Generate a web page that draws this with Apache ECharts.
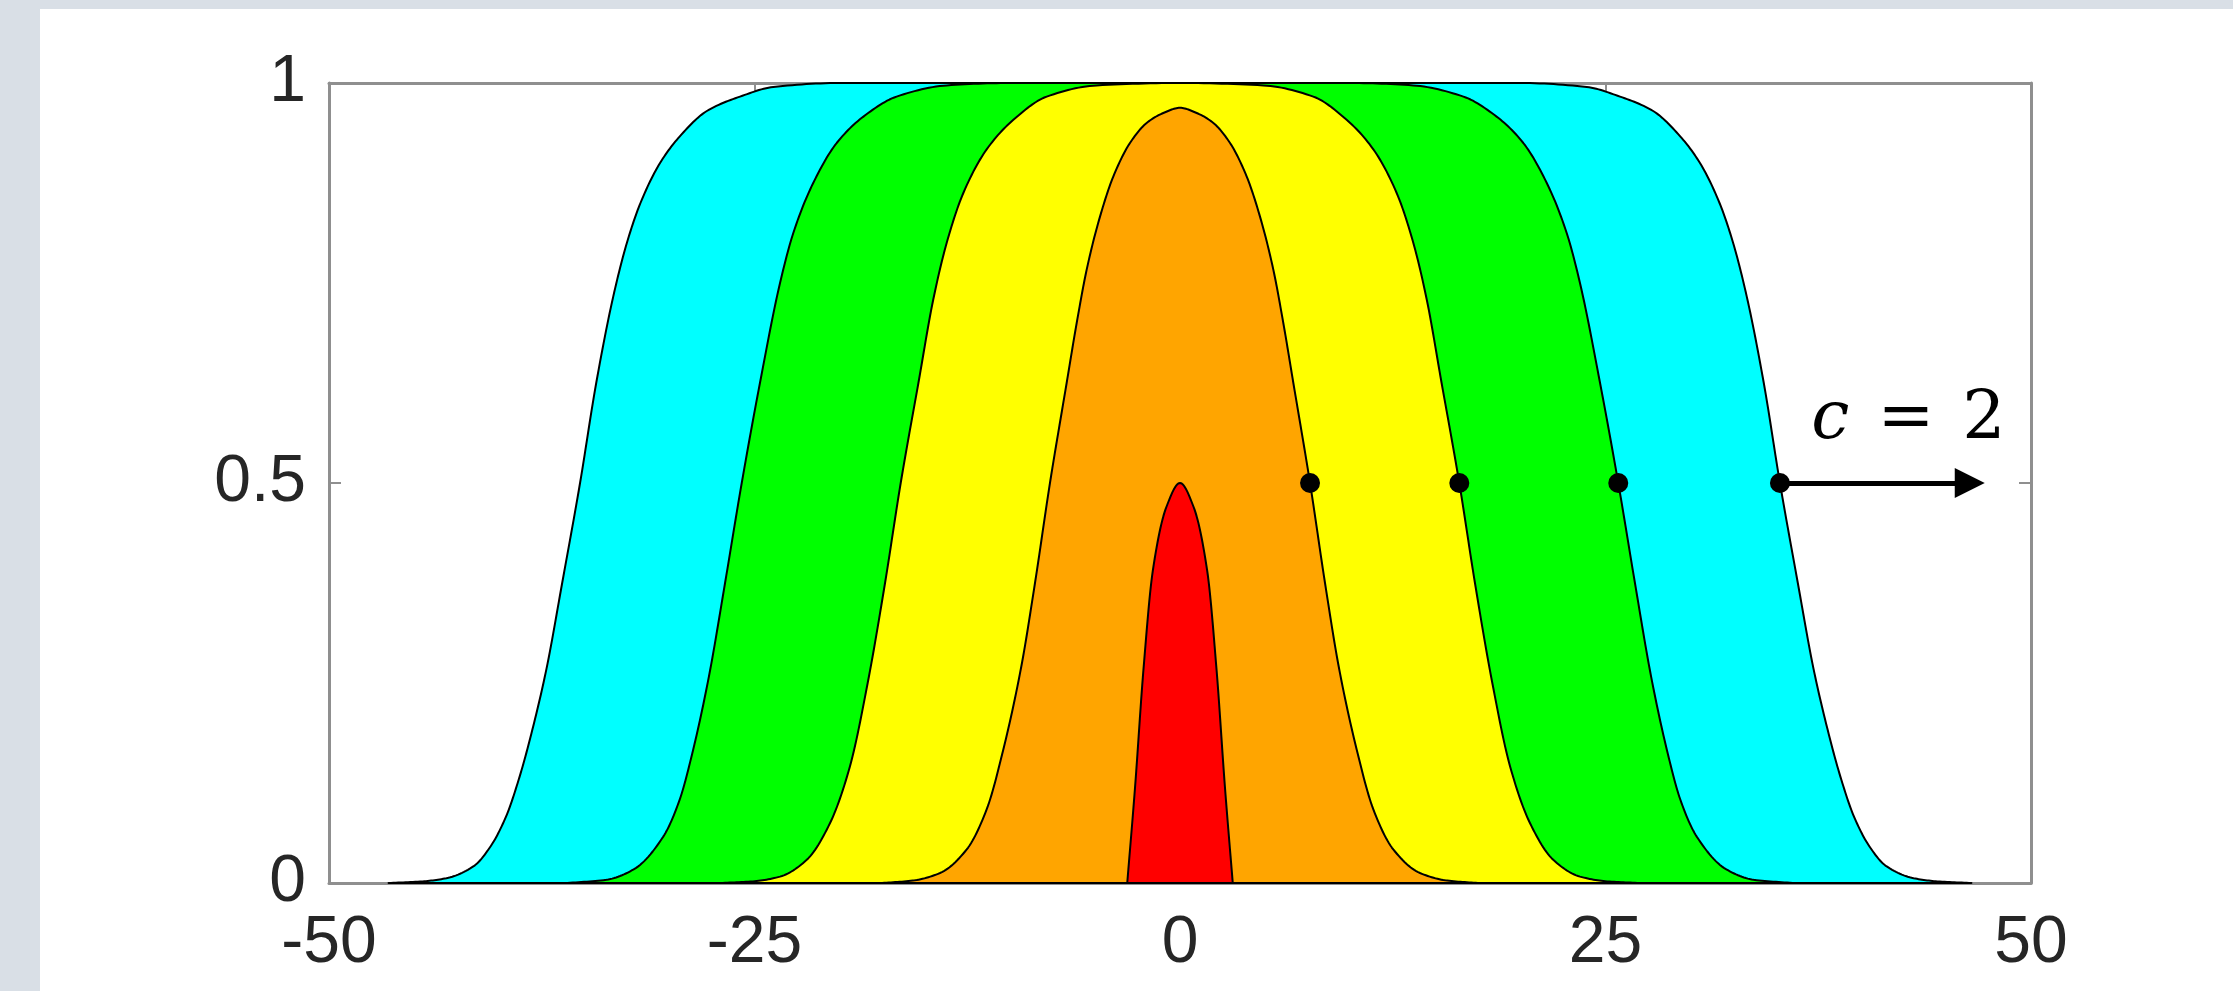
<!DOCTYPE html>
<html>
<head>
<meta charset="utf-8">
<script src="https://cdn.jsdelivr.net/npm/echarts@6/dist/echarts.min.js"></script>
<style>
  html, body { margin: 0; padding: 0; width: 2233px; height: 991px; background: #d9dfe6; overflow: hidden; }
  #chart { position: absolute; left: 40px; top: 9px; width: 2193px; height: 982px; background: #ffffff; }
</style>
</head>
<body>
<div id="chart"></div>
<script>
// ---- data ----
const xTickValues = [-50, -25, 0, 25, 50];
const yTickValues = [0, 0.5, 1];

const cyanFront = [[-46.5,0],[-44.5,0.002],[-43.1,0.006],[-41.5,0.021],[-40.5,0.046],[-39.6,0.083],[-38.8,0.133],[-38.0,0.196],[-37.22,0.268],[-36.3,0.375],[-35.25,0.5],[-34.3,0.625],[-33.3,0.733],[-32.5,0.8],[-31.7,0.85],[-30.55,0.9],[-29.4,0.933],[-27.8,0.965],[-25.85,0.983],[-23.9,0.995],[-20,1],[0,1],[20,1],[23.9,0.995],[25.85,0.983],[27.8,0.965],[29.4,0.933],[30.55,0.9],[31.7,0.85],[32.5,0.8],[33.3,0.733],[34.3,0.625],[35.25,0.5],[36.3,0.375],[37.22,0.268],[38.0,0.196],[38.8,0.133],[39.6,0.083],[40.5,0.046],[41.5,0.021],[43.1,0.006],[44.5,0.002],[46.5,0]];

const greenFront = [[-36,0],[-33.7,0.004],[-32.1,0.017],[-30.36,0.058],[-29.4,0.104],[-28.6,0.167],[-27.68,0.258],[-26.73,0.375],[-25.75,0.5],[-24.68,0.625],[-23.5,0.75],[-22.72,0.8125],[-21.55,0.875],[-20.17,0.925],[-18.6,0.958],[-16.65,0.983],[-13.7,0.997],[-10,1],[0,1],[10,1],[13.7,0.997],[16.65,0.983],[18.6,0.958],[20.17,0.925],[21.55,0.875],[22.72,0.8125],[23.5,0.75],[24.68,0.625],[25.75,0.5],[26.73,0.375],[27.68,0.258],[28.6,0.167],[29.4,0.104],[30.36,0.058],[32.1,0.017],[33.7,0.004],[36,0]];

const yellowFront = [[-27,0],[-25.1,0.002],[-23.5,0.008],[-21.93,0.029],[-20.56,0.075],[-19.39,0.146],[-18.35,0.25],[-17.33,0.375],[-16.41,0.5],[-15.37,0.625],[-14.5,0.729],[-13.71,0.8],[-12.73,0.8625],[-11.36,0.917],[-9.79,0.954],[-7.83,0.983],[-4.9,0.997],[0,1],[4.9,0.997],[7.83,0.983],[9.79,0.954],[11.36,0.917],[12.73,0.8625],[13.71,0.8],[14.5,0.729],[15.37,0.625],[16.41,0.5],[17.33,0.375],[18.35,0.25],[19.39,0.146],[20.56,0.075],[21.93,0.029],[23.5,0.008],[25.1,0.002],[27,0]];

const orangeBump = [[-17.5,0],[-15.7,0.003],[-14.1,0.0125],[-12.53,0.042],[-11.36,0.092],[-10.38,0.167],[-9.33,0.27],[-8.52,0.375],[-7.64,0.5],[-6.66,0.625],[-6.07,0.7],[-5.48,0.767],[-4.7,0.833],[-3.92,0.883],[-2.94,0.925],[-1.96,0.95],[-0.98,0.9625],[0,0.969],[0.98,0.9625],[1.96,0.95],[2.94,0.925],[3.92,0.883],[4.7,0.833],[5.48,0.767],[6.07,0.7],[6.66,0.625],[7.64,0.5],[8.52,0.375],[9.33,0.27],[10.38,0.167],[11.36,0.092],[12.53,0.042],[14.1,0.0125],[15.7,0.003],[17.5,0]];

const redInitial = [[-3.1,0],[-2.64,0.12],[-2.15,0.266],[-1.6,0.39],[-0.8,0.47],[0,0.5],[0.8,0.47],[1.6,0.39],[2.15,0.266],[2.64,0.12],[3.1,0]];

const halfLevelPoints = [[7.64,0.5],[16.41,0.5],[25.75,0.5],[35.25,0.5]];
const arrowStart = [35.25, 0.5];
const arrowEnd = [46.4, 0.5];
const speedLabelPos = [42.8, 0.578];

const fillColors = ['#00ffff', '#00ff00', '#ffff00', '#ffa500', '#ff0000'];
const curves = [cyanFront, greenFront, yellowFront, orangeBump, redInitial];

// ---- drawing helpers (smooth monotone cubic through pixel positions) ----
function pchipSample(P, steps) {
  const n = P.length;
  if (n < 2) return P.slice();
  const h = [], d = [];
  for (let i = 0; i < n - 1; i++) {
    h.push(P[i + 1][0] - P[i][0]);
    d.push((P[i + 1][1] - P[i][1]) / (h[i] || 1e-9));
  }
  const m = new Array(n);
  m[0] = d[0];
  m[n - 1] = d[n - 2];
  for (let i = 1; i < n - 1; i++) {
    if (d[i - 1] * d[i] <= 0) { m[i] = 0; continue; }
    const w1 = 2 * h[i] + h[i - 1], w2 = h[i] + 2 * h[i - 1];
    m[i] = (w1 + w2) / (w1 / d[i - 1] + w2 / d[i]);
  }
  const out = [P[0]];
  for (let i = 0; i < n - 1; i++) {
    const x0 = P[i][0], y0 = P[i][1], x1 = P[i + 1][0], y1 = P[i + 1][1], hh = h[i];
    for (let s = 1; s <= steps; s++) {
      const t = s / steps, t2 = t * t, t3 = t2 * t;
      const h00 = 2 * t3 - 3 * t2 + 1, h10 = t3 - 2 * t2 + t, h01 = -2 * t3 + 3 * t2, h11 = t3 - t2;
      out.push([x0 + hh * t, h00 * y0 + h10 * hh * m[i] + h01 * y1 + h11 * hh * m[i + 1]]);
    }
  }
  return out;
}

// ---- chart ----
const chart = echarts.init(document.getElementById('chart'), null, { renderer: 'canvas' });

const axisGray = '#8f8f8f';
const labelStyle = { fontFamily: 'Liberation Sans, Arial, sans-serif', fontSize: 66, color: '#262626' };

function fmt(ticks) {
  return function (v) {
    for (const t of ticks) if (Math.abs(t - v) < 1e-9) return String(t);
    return '';
  };
}

function makeAxis(kind, pos, showLabels) {
  const isX = kind === 'x';
  const ticks = isX ? xTickValues : yTickValues;
  return {
    type: 'value',
    position: pos,
    min: ticks[0],
    max: ticks[ticks.length - 1],
    interval: ticks[1] - ticks[0],
    axisLine: { show: true, onZero: false, lineStyle: { color: axisGray, width: 3 } },
    axisTick: { show: true, inside: true, length: 12, lineStyle: { color: axisGray, width: 2 } },
    axisLabel: Object.assign({ show: showLabels, margin: isX ? 28 : 23, formatter: fmt(ticks), showMinLabel: true, showMaxLabel: true }, labelStyle),
    splitLine: { show: false }
  };
}

const series = curves.map((curve, i) => ({
  type: 'custom',
  data: curve,
  encode: { x: 0, y: 1 },
  z: 2 + i,
  silent: true,
  renderItem: function (params, api) {
    if (params.dataIndex !== 0) return null;
    const px = curve.map(p => api.coord(p));
    const pts = pchipSample(px, 14);
    const baseY = api.coord([0, 0])[1];
    pts.push([px[px.length - 1][0], baseY]);
    pts.push([px[0][0], baseY]);
    return {
      type: 'polygon',
      shape: { points: pts },
      style: { fill: fillColors[i], stroke: '#000', lineWidth: 2, lineJoin: 'round' }
    };
  }
}));

series.push({
  type: 'lines',
  coordinateSystem: 'cartesian2d',
  data: [{ coords: [arrowStart, arrowEnd] }],
  lineStyle: { color: '#000', width: 5, opacity: 1 },
  symbol: ['none', 'triangle'],
  symbolSize: 30,
  z: 20,
  silent: true
});

series.push({
  type: 'scatter',
  data: halfLevelPoints,
  symbol: 'circle',
  symbolSize: 20,
  itemStyle: { color: '#000', opacity: 1 },
  z: 21,
  silent: true
});

const serif = 'DejaVu Serif, Liberation Serif, serif';
series.push({
  type: 'scatter',
  data: [speedLabelPos],
  symbolSize: 1,
  itemStyle: { color: 'rgba(0,0,0,0)', opacity: 1 },
  z: 22,
  silent: true,
  label: {
    show: true,
    position: 'inside',
    align: 'center',
    verticalAlign: 'middle',
    opacity: 1,
    formatter: '{c|c}{e|=}{t|2}',
    rich: {
      c: { fontFamily: serif, fontStyle: 'italic', fontSize: 68, color: '#000' },
      e: { fontFamily: serif, fontSize: 68, color: '#000', padding: [0, 28, 0, 28] },
      t: { fontFamily: serif, fontSize: 68, color: '#000' }
    }
  }
});

chart.setOption({
  animation: false,
  backgroundColor: '#ffffff',
  grid: { left: 289, top: 74, width: 1702, height: 800, containLabel: false },
  xAxis: [makeAxis('x', 'bottom', true), makeAxis('x', 'top', false)],
  yAxis: [makeAxis('y', 'left', true), makeAxis('y', 'right', false)],
  series: series
});
</script>
</body>
</html>
